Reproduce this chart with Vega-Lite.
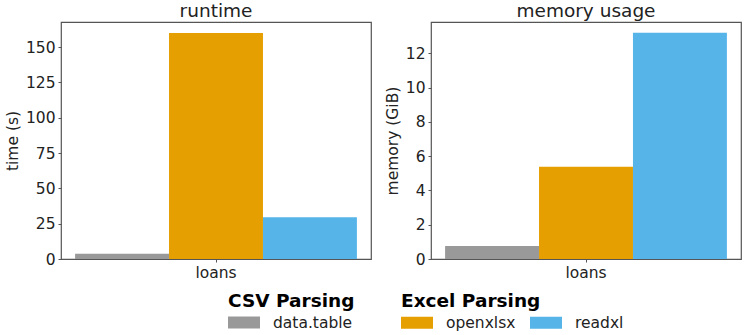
{
  "$schema": "https://vega.github.io/schema/vega-lite/v6.json",
  "padding": {"left": 4, "top": 0, "right": 5, "bottom": 0},
  "data": {
    "values": [
      {"panel": "runtime", "dataset": "loans", "group": "CSV Parsing", "tool": "data.table", "value": 3.8},
      {"panel": "runtime", "dataset": "loans", "group": "Excel Parsing", "tool": "openxlsx", "value": 160.0},
      {"panel": "runtime", "dataset": "loans", "group": "Excel Parsing", "tool": "readxl", "value": 29.6},
      {"panel": "memory", "dataset": "loans", "group": "CSV Parsing", "tool": "data.table", "value": 0.76},
      {"panel": "memory", "dataset": "loans", "group": "Excel Parsing", "tool": "openxlsx", "value": 5.39},
      {"panel": "memory", "dataset": "loans", "group": "Excel Parsing", "tool": "readxl", "value": 13.2}
    ]
  },
  "config": {
    "font": "DejaVu Sans",
    "view": {"stroke": "#555555", "strokeWidth": 1.2},
    "axis": {
      "labelFontSize": 15.5, "titleFontSize": 15.5, "labelColor": "#222222", "titleColor": "#222222",
      "titleFontWeight": "normal", "tickColor": "#555555", "tickSize": 3, "domain": false, "grid": false,
      "labelPadding": 3, "titlePadding": 5
    },
    "title": {"fontSize": 18.5, "fontWeight": "normal", "color": "#222222", "offset": 2},
    "legend": {
      "orient": "none", "direction": "horizontal",
      "symbolType": "M-1,-0.375H1V0.375H-1Z", "symbolSize": 1024, "symbolStrokeWidth": 0,
      "labelFontSize": 15.5, "labelColor": "#222222", "labelOffset": 13,
      "titleFontSize": 18.5, "titleFontWeight": "bold", "titleColor": "#000000",
      "titleAnchor": "start", "titleOrient": "top", "titlePadding": -4, "columnPadding": 14, "padding": 0
    },
    "concat": {"spacing": 12}
  },
  "hconcat": [
    {
      "title": "runtime",
      "width": 310, "height": 237,
      "transform": [{"filter": "datum.panel == 'runtime'"}],
      "encoding": {
        "x": {"field": "dataset", "type": "nominal", "title": null,
              "scale": {"paddingInner": 0, "paddingOuter": 0.05},
              "axis": {"labelAngle": 0}},
        "xOffset": {"field": "tool", "type": "nominal", "scale": {"domain": ["data.table", "openxlsx", "readxl"], "padding": 0}},
        "y": {"field": "value", "type": "quantitative", "title": "time (s)",
              "scale": {"domain": [0, 167.7], "nice": false},
              "axis": {"values": [0, 25, 50, 75, 100, 125, 150]}}
      },
      "layer": [
        {
          "transform": [{"filter": "datum.group == 'CSV Parsing'"}],
          "mark": {"type": "bar"},
          "encoding": {
            "color": {"field": "tool", "type": "nominal", "title": "CSV Parsing",
                      "scale": {"domain": ["data.table"], "range": ["#999999"]},
                      "legend": {"legendX": 167, "legendY": 270}}
          }
        },
        {
          "transform": [{"filter": "datum.group == 'Excel Parsing'"}],
          "mark": {"type": "bar"},
          "encoding": {
            "fill": {"field": "tool", "type": "nominal", "title": "Excel Parsing",
                     "scale": {"domain": ["openxlsx", "readxl"], "range": ["#E69F00", "#56B4E9"]},
                     "legend": {"legendX": 340, "legendY": 270}}
          }
        }
      ]
    },
    {
      "title": "memory usage",
      "width": 310, "height": 237,
      "transform": [{"filter": "datum.panel == 'memory'"}],
      "encoding": {
        "x": {"field": "dataset", "type": "nominal", "title": null,
              "scale": {"paddingInner": 0, "paddingOuter": 0.05},
              "axis": {"labelAngle": 0}},
        "xOffset": {"field": "tool", "type": "nominal", "scale": {"domain": ["data.table", "openxlsx", "readxl"], "padding": 0}},
        "y": {"field": "value", "type": "quantitative", "title": "memory (GiB)",
              "scale": {"domain": [0, 13.83], "nice": false},
              "axis": {"values": [0, 2, 4, 6, 8, 10, 12]}}
      },
      "layer": [
        {
          "transform": [{"filter": "datum.group == 'CSV Parsing'"}],
          "mark": {"type": "bar"},
          "encoding": {
            "color": {"field": "tool", "type": "nominal", "title": "CSV Parsing",
                      "scale": {"domain": ["data.table"], "range": ["#999999"]},
                      "legend": {"legendX": 167, "legendY": 270}}
          }
        },
        {
          "transform": [{"filter": "datum.group == 'Excel Parsing'"}],
          "mark": {"type": "bar"},
          "encoding": {
            "fill": {"field": "tool", "type": "nominal", "title": "Excel Parsing",
                     "scale": {"domain": ["openxlsx", "readxl"], "range": ["#E69F00", "#56B4E9"]},
                     "legend": {"legendX": 340, "legendY": 270}}
          }
        }
      ]
    }
  ]
}
